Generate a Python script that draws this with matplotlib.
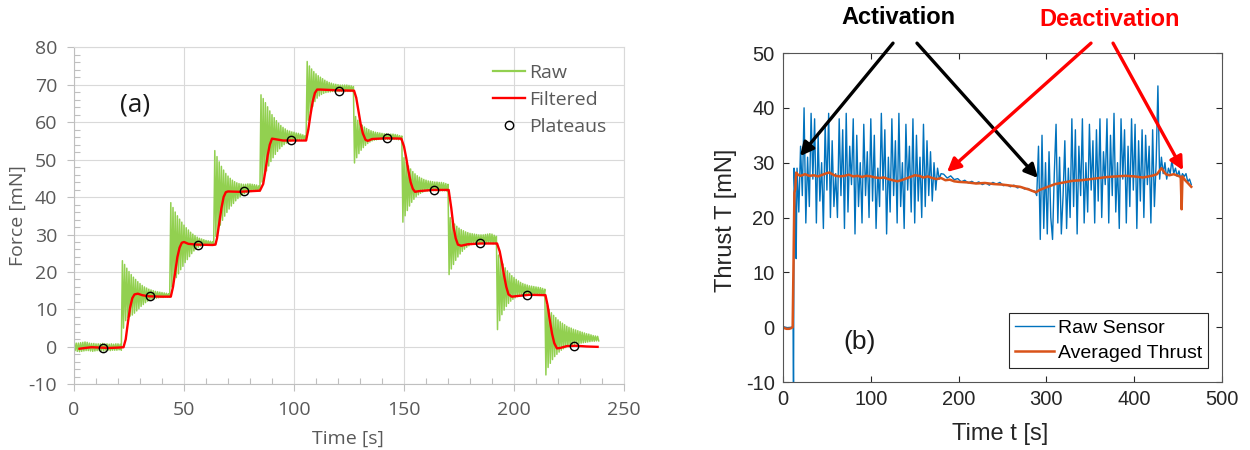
import numpy as np
import matplotlib.pyplot as plt
from matplotlib.ticker import MultipleLocator

plt.rcParams['font.family'] = ['Open Sans', 'DejaVu Sans']
plt.rcParams['axes.unicode_minus'] = False

# ---------- (a) force steps ----------
# raw load cell: top / bottom of each swing, one pair per second (t = 0..238 s)
raw_hi = [
    1.2, 1.0, 1.0, 1.1, 1.2, 1.3, 1.2, 1.0, 0.9, 0.9, 0.8, 0.8, 0.8, 0.9, 0.8, 0.8, 0.7, 0.8, 0.7, 0.8, 0.8, 0.7,
    23.0, 22.0, 21.0, 20.1, 19.3, 18.6, 18.0, 17.4, 16.9, 16.4, 16.0, 15.7, 15.4, 15.2, 15.0, 14.8, 14.7, 14.6, 14.5, 14.4, 14.3, 14.2,
    38.5, 37.2, 36.0, 35.0, 34.1, 33.3, 32.5, 31.8, 31.2, 30.6, 30.1, 29.7, 29.3, 29.0, 28.8, 28.6, 28.4, 28.3, 28.2, 28.1,
    52.4, 50.8, 49.4, 48.2, 47.2, 46.3, 45.6, 45.0, 44.5, 44.1, 43.8, 43.6, 43.5, 43.4, 43.4, 43.5, 43.5, 43.4, 43.3, 43.2, 43.0,
    67.3, 66.3, 65.2, 64.1, 63.0, 62.0, 61.2, 60.4, 59.7, 59.1, 58.6, 58.2, 57.8, 57.6, 57.4, 57.3, 57.1, 57.0, 56.8, 56.6, 56.4,
    76.2, 75.0, 74.2, 73.5, 72.9, 72.4, 72.0, 71.6, 71.2, 70.9, 70.6, 70.4, 70.2, 70.1, 70.0, 69.9, 69.9, 69.9, 69.9, 69.8, 69.7, 69.5,
    61.5, 60.5, 59.8, 59.2, 58.7, 58.3, 58.0, 57.7, 57.5, 57.3, 57.2, 57.1, 57.0, 56.9, 56.9, 56.8, 56.8, 56.8, 56.7, 56.6, 56.4, 56.3,
    50.5, 49.3, 48.3, 47.5, 46.8, 46.2, 45.7, 45.3, 45.0, 44.7, 44.5, 44.3, 44.2, 44.1, 44.0, 44.0, 43.9, 43.9, 43.8, 43.6, 43.4,
    34.5, 33.6, 32.8, 32.2, 31.7, 31.3, 31.0, 30.7, 30.5, 30.3, 30.2, 30.1, 30.0, 29.9, 29.9, 29.9, 30.0, 30.1, 30.2, 30.1, 29.8, 29.5,
    24.5, 23.2, 22.1, 21.1, 20.3, 19.6, 19.0, 18.5, 18.0, 17.6, 17.2, 16.9, 16.7, 16.5, 16.3, 16.2, 16.1, 16.0, 15.9, 15.8, 15.6, 15.4,
    11.0, 10.0, 9.1, 8.4, 7.8, 7.2, 6.7, 6.3, 5.9, 5.5, 5.2, 5.0, 4.7, 4.5, 4.3, 4.1, 3.9, 3.7, 3.5, 3.4, 3.2, 3.0, 2.9, 2.8,
]
raw_lo = [
    -1.0, -1.2, -1.3, -1.2, -1.1, -1.0, -1.0, -1.1, -1.2, -1.1, -1.0, -1.0, -1.0, -1.1, -0.9, -0.9, -1.0, -0.9, -0.9, -0.9, -0.8, -0.9,
    5.0, 7.0, 7.8, 8.2, 8.5, 9.0, 9.6, 10.2, 10.8, 11.3, 11.8, 12.2, 12.5, 12.7, 12.9, 13.0, 13.1, 13.2, 13.2, 13.3, 13.3, 13.3,
    16.0, 17.5, 18.5, 19.5, 20.6, 21.5, 22.5, 23.3, 24.1, 24.9, 25.6, 26.1, 26.6, 26.9, 27.1, 27.2, 27.3, 27.3, 27.4, 27.4,
    29.5, 31.0, 32.5, 33.8, 34.9, 35.9, 36.8, 37.6, 38.3, 39.0, 39.6, 40.1, 40.5, 40.9, 41.2, 41.4, 41.5, 41.6, 41.6, 41.6, 41.6,
    44.0, 45.6, 47.0, 48.3, 49.5, 50.5, 51.4, 52.2, 52.9, 53.5, 54.0, 54.4, 54.7, 54.9, 55.1, 55.2, 55.2, 55.3, 55.3, 55.3, 55.3,
    60.5, 62.5, 64.2, 65.5, 66.4, 67.0, 67.4, 67.7, 67.9, 68.0, 68.1, 68.2, 68.2, 68.2, 68.2, 68.2, 68.2, 68.2, 68.2, 68.2, 68.2,
    49.1, 50.5, 51.6, 52.5, 53.2, 53.8, 54.3, 54.7, 55.0, 55.2, 55.3, 55.4, 55.4, 55.4, 55.4, 55.4, 55.4, 55.4, 55.4, 55.4, 55.3, 55.3,
    33.3, 35.0, 36.4, 37.6, 38.6, 39.4, 40.1, 40.6, 41.0, 41.3, 41.5, 41.6, 41.7, 41.7, 41.7, 41.7, 41.7, 41.7, 41.7, 41.7, 41.6,
    19.3, 20.8, 22.0, 23.1, 24.0, 24.8, 25.5, 26.1, 26.6, 27.0, 27.3, 27.5, 27.6, 27.6, 27.6, 27.6, 27.6, 27.6, 27.6, 27.6, 27.5, 27.5,
    4.6, 7.0, 8.6, 9.8, 10.8, 11.6, 12.2, 12.7, 13.1, 13.4, 13.6, 13.7, 13.8, 13.8, 13.8, 13.8, 13.8, 13.8, 13.8, 13.8, 13.8, 13.7,
    -7.5, -5.5, -4.4, -3.4, -2.6, -2.0, -1.4, -0.9, -0.5, -0.2, 0.1, 0.3, 0.5, 0.7, 0.8, 0.9, 1.0, 1.1, 1.2, 1.3, 1.4, 1.5, 1.5, 1.6, 1.6,
]

# filtered signal
filt_t = [2.5, 5, 8, 12, 16, 20, 22.5, 23.5, 24.5, 25.5, 26.5, 27.5, 29, 31, 34, 40, 44,
          45, 46, 47, 48, 49, 50, 52, 56, 63, 64.3,
          65, 66, 67, 68, 69, 70, 75, 84.5,
          86, 87, 88, 89, 90, 91, 95, 105.5,
          106.5, 107.5, 108.5, 109.5, 110.5, 112, 120, 127.3,
          128.3, 129.3, 130.3, 131.3, 132.5, 133.5, 135.5, 142, 148.8,
          150, 151, 152, 153, 154, 155, 157, 163, 170.3,
          171.5, 172.5, 173.5, 174.5, 176, 179, 185, 192.3,
          193.5, 194.5, 195.5, 196.5, 197.5, 199, 202, 207, 214.3,
          215.3, 216.3, 217.3, 218.3, 219.5, 221, 224, 228, 233, 238]
filt_f = [-0.5, -0.3, -0.1, -0.2, -0.3, -0.2, -0.1, 2.0, 6.5, 10.5, 13.0, 14.0, 14.2, 13.8, 13.5, 13.4, 13.4,
          16.0, 20.0, 24.0, 26.5, 27.8, 28.0, 27.5, 27.3, 27.2, 27.3,
          29.0, 33.0, 37.0, 40.0, 41.3, 41.5, 41.4, 41.7,
          43.5, 47.0, 51.0, 54.0, 55.6, 55.5, 55.1, 55.1,
          58.0, 62.0, 65.5, 67.8, 68.7, 68.7, 68.5, 68.4,
          66.5, 63.0, 59.5, 57.0, 55.3, 55.0, 55.5, 55.7, 55.6,
          53.5, 50.5, 47.0, 44.0, 42.2, 41.4, 41.6, 41.9, 41.9,
          37.0, 32.0, 29.0, 27.3, 27.0, 27.4, 27.6, 27.6,
          25.5, 22.5, 19.0, 16.0, 14.0, 13.4, 13.6, 13.9, 13.8,
          11.0, 7.0, 3.5, 1.0, -0.4, -0.3, 0.2, 0.3, 0.1, 0.0]

# plateau picks
plat_t = [13.0, 34.5, 56.3, 77.4, 98.6, 120.6, 142.1, 163.5, 184.5, 205.9, 227.4]
plat_f = [-0.2, 13.6, 27.3, 41.6, 55.2, 68.4, 55.7, 41.9, 27.6, 13.9, 0.3]

# ---------- (b) thruster run ----------
# sensor start-up (t in s)
sensor_t0 = [0, 5, 10, 11.5, 12.0, 12.6, 14.0, 15.0]
sensor_v0 = [0.1, -0.1, 0.0, 0.0, -14.0, 29.0, 22.0, 12.5]
# first firing, every 2 s from t = 16
sensor_on1 = [29, 21, 33, 24, 40, 19, 31, 22, 39, 27, 38, 19, 35, 23, 30, 18, 37, 25, 39, 20,
              34, 22, 28, 20, 38, 24, 36, 18, 39, 21, 33, 26, 38, 17, 35, 22, 30, 19, 37, 24,
              32, 20, 38, 23, 35, 18, 29, 22, 39, 25, 36, 17, 31, 21, 38, 24, 34, 19, 39, 22,
              30, 18, 37, 25, 33, 21, 38, 19, 35, 23, 31, 20, 37, 22, 34, 24, 32, 23, 30, 25,
              29, 27, 28]
# quiet stretch, every 4 s from t = 183
sensor_off = [27.9, 27.2, 27.6, 26.9, 27.1, 26.5, 26.8, 26.3, 26.6, 26.2, 26.5, 26.0, 26.3, 25.9,
              26.4, 26.1, 26.4, 25.8, 26.0, 25.6, 25.9, 25.4, 25.6, 25.2, 25.3, 24.9, 24.8]
# second firing, every 2 s from t = 289
sensor_on2 = [24, 33, 16, 35, 18, 30, 17, 32, 20, 16, 28, 37, 19, 31, 17, 24, 34, 18, 29, 20,
              38, 22, 36, 17, 33, 24, 38, 19, 30, 21, 37, 25, 34, 19, 36, 23, 38, 20, 32, 26,
              38, 19, 35, 24, 39, 21, 30, 18, 38, 27, 36, 19, 33, 22, 38, 25, 37, 18, 34, 23,
              36, 20, 35, 26, 33, 19, 36, 22, 30, 44, 27, 31]
# shutdown, every 2 s from t = 433
sensor_end = [28.0, 30.0, 27.0, 29.0, 28.0, 30.5, 28.0, 29.0, 27.5, 28.5, 27.0, 28.0, 27.5, 28.0,
              26.5, 27.0, 26.0]

avg_t = [0, 2, 4, 7, 9, 11, 12, 13, 14, 15, 17, 20, 25, 30, 35, 40, 45, 50, 53, 56, 60, 65, 70, 75,
         80, 85, 90, 95, 100, 105, 110, 115, 120, 125, 130, 135, 140, 145, 150, 155, 160, 165,
         170, 175, 180, 185, 190, 195, 200, 210, 220, 230, 240, 250, 260, 270, 280, 288, 292, 300,
         310, 320, 330, 340, 350, 360, 370, 380, 390, 400, 410, 420, 426, 431, 436, 440, 445, 450,
         453, 454, 455, 458, 461, 465]
avg_v = [0.0, -0.2, -0.3, -0.3, -0.2, 0.0, 12.0, 24.5, 25.2, 28.2, 27.8, 27.6, 27.9, 27.6, 27.7, 27.5,
         27.8, 28.1, 28.2, 27.9, 27.6, 27.5, 27.6, 27.8, 27.5, 27.6, 27.4, 27.6, 27.5, 27.3, 27.2, 27.3,
         27.0, 26.8, 26.6, 26.8, 27.1, 27.4, 27.7, 27.6, 27.3, 27.5, 27.2, 27.0, 27.2, 26.8, 26.9, 26.6,
         26.5, 26.4, 26.2, 26.3, 26.1, 26.0, 25.8, 25.6, 25.1, 24.6, 25.0, 25.5, 26.1, 26.4, 26.7, 26.8,
         27.0, 27.2, 27.4, 27.5, 27.6, 27.5, 27.3, 27.6, 27.9, 29.0, 27.9, 27.7, 27.9, 27.6, 27.4, 21.5,
         27.5, 26.8, 26.3, 25.6]

fig = plt.figure(figsize=(12.5, 4.5), dpi=100)

# ================= left: Excel-style chart =================
ax1 = fig.add_axes([0.0592, 0.146, 0.44, 0.749])
gray = '#595959'

t_raw = np.arange(len(raw_hi))
xs = np.column_stack([t_raw, t_raw + 0.5]).ravel()
ys = np.column_stack([raw_hi, raw_lo]).ravel()
ax1.plot(xs, ys, color='#92D050', lw=1.1, label='Raw', zorder=2)
ax1.plot(filt_t, filt_f, color='#FF0000', lw=1.7, label='Filtered', zorder=3)
ax1.plot(plat_t, plat_f, 'o', mfc='none', mec='black', ms=6, mew=1.0, label='Plateaus', zorder=4)

ax1.set_xlim(0, 250)
ax1.set_ylim(-10, 80)
ax1.set_xticks(np.arange(0, 251, 50))
ax1.set_yticks(np.arange(-10, 81, 10))
ax1.xaxis.set_minor_locator(MultipleLocator(10))
ax1.yaxis.set_minor_locator(MultipleLocator(2))
ax1.grid(True, which='major', color='#D9D9D9', lw=0.8)
ax1.set_axisbelow(True)
for side in ['left', 'bottom']:
    ax1.spines[side].set_color('#BFBFBF')
for side in ['top', 'right']:
    ax1.spines[side].set_color('#D9D9D9')
ax1.tick_params(which='major', direction='out', length=5, width=0.8, color='#BFBFBF',
                labelsize=14, labelcolor=gray, pad=7)
ax1.tick_params(which='minor', direction='in', length=4, width=0.8, color='#BFBFBF')

ax1.set_xlabel('Time [s]', fontsize=14, color=gray)
ax1.set_ylabel('Force [mN]', fontsize=14, color=gray)
ax1.xaxis.set_label_coords(0.498, -0.135)
ax1.yaxis.set_label_coords(-0.085, 0.5)

leg = ax1.legend(loc='upper left', bbox_to_anchor=(0.762, 0.95), frameon=False, fontsize=14,
                 handlelength=1.65, handletextpad=0.2, labelspacing=0.45, borderpad=0,
                 borderaxespad=0)
for txt in leg.get_texts():
    txt.set_color(gray)
leg.get_lines()[0].set_linewidth(1.6)

ax1.text(0.111, 0.83, '(a)', transform=ax1.transAxes, fontsize=19, ha='center', va='center',
         color='#1a1a1a')

# ================= right: MATLAB-style chart =================
arial = 'Liberation Sans'
dark = '#262626'
ax2 = fig.add_axes([0.6264, 0.1511, 0.3512, 0.7311])

sensor_t = np.concatenate([sensor_t0, np.arange(16, 181, 2), np.arange(183, 288, 4),
                           np.arange(289, 432, 2), np.arange(433, 466, 2)])
sensor_v = np.concatenate([sensor_v0, sensor_on1, sensor_off, sensor_on2, sensor_end])
ax2.plot(sensor_t, sensor_v, color='#0072BD', lw=1.0, label='Raw Sensor')
ax2.plot(avg_t, avg_v, color='#D95319', lw=1.8, label='Averaged Thrust')

ax2.set_xlim(0, 500)
ax2.set_ylim(-10, 50)
xt = np.arange(0, 501, 100)
yt = np.arange(-10, 51, 10)
ax2.set_xticks(xt)
ax2.set_xticklabels([str(v) for v in xt], fontfamily=arial)
ax2.set_yticks(yt)
ax2.set_yticklabels([str(v) for v in yt], fontfamily=arial)
ax2.tick_params(direction='in', top=True, right=True, length=4, width=0.8, color=dark,
                labelsize=14.5, labelcolor=dark, pad=6)
for sp in ax2.spines.values():
    sp.set_color('#555555')
    sp.set_linewidth(0.8)

ax2.set_xlabel('Time t [s]', fontsize=17, fontfamily=arial, color=dark)
ax2.set_ylabel('Thrust T [mN]', fontsize=17, fontfamily=arial, color=dark)
ax2.xaxis.set_label_coords(0.494, -0.125)
ax2.yaxis.set_label_coords(-0.105, 0.49)

leg2 = ax2.legend(loc='lower right', bbox_to_anchor=(0.968, 0.043), prop={'family': arial, 'size': 14},
                  fancybox=False, edgecolor=dark, framealpha=1, borderpad=0.3, handlelength=2.0,
                  handletextpad=0.2, labelspacing=0.4, borderaxespad=0)
leg2.get_frame().set_linewidth(0.8)

ax2.text(0.175, 0.122, '(b)', transform=ax2.transAxes, fontsize=19, fontfamily=arial,
         ha='center', va='center', color='#1a1a1a')

# activation / deactivation callouts
fig.text(0.7184, 0.96, 'Activation', fontsize=17, fontweight='bold', fontfamily=arial,
         ha='center', va='center', color='black')
fig.text(0.888, 0.956, 'Deactivation', fontsize=17, fontweight='bold', fontfamily=arial,
         ha='center', va='center', color='#FF0000')

arrows = [((125.3, 51.8), (19.4, 31.2), 'black'),
          ((152.6, 51.8), (290.4, 27.2), 'black'),
          ((350.8, 51.8), (186.8, 28.3), '#FF0000'),
          ((375.9, 51.8), (455.6, 28.6), '#FF0000')]
for tail, head, col in arrows:
    ax2.annotate('', xy=head, xytext=tail, xycoords='data', textcoords='data',
                 annotation_clip=False,
                 arrowprops=dict(arrowstyle='-|>', lw=2.4, color=col, mutation_scale=20,
                                 shrinkA=0, shrinkB=0))

fig.savefig('out.png', dpi=100)
